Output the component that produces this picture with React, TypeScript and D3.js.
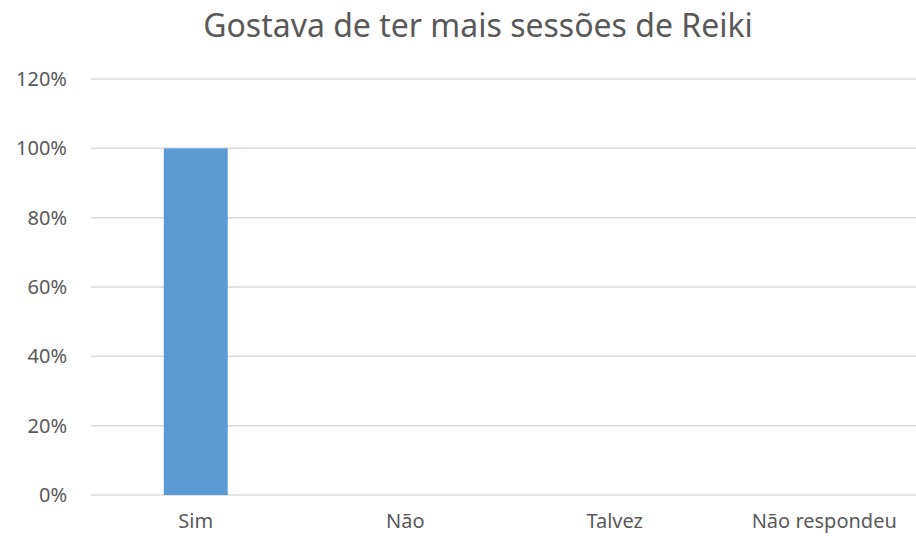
import React from "react";
import * as d3 from "d3";

const title = "Gostava de ter mais sessões de Reiki";
const categories = ["Sim", "Não", "Talvez", "Não respondeu"];
const values = [1.0, 0, 0, 0];
const yTicks = [0, 0.2, 0.4, 0.6, 0.8, 1.0, 1.2];

const W = 916;
const H = 536;
const FONT = "'Noto Sans', 'Open Sans', sans-serif";

export default function App() {
  const x = d3
    .scaleBand<string>()
    .domain(categories)
    .range([91, 929])
    .paddingInner(0.695)
    .paddingOuter(0.3475);
  const y = d3.scaleLinear().domain([0, 1.2]).range([495, 79]);
  const fmt = d3.format(".0%");

  return (
    <svg
      width={W}
      height={H}
      style={{ position: "absolute", left: 0, top: 0, background: "#fff" }}
    >
      <rect x={0} y={0} width={W} height={H} fill="#fff" />
      <text
        x={478}
        y={37}
        textAnchor="middle"
        fontFamily={FONT}
        fontSize={32}
        fill="#595959"
      >
        {title}
      </text>
      {yTicks.map((t) => (
        <g key={t}>
          <line
            x1={91}
            x2={929}
            y1={y(t)}
            y2={y(t)}
            stroke="#D9D9D9"
            strokeWidth={1.5}
          />
          <text
            x={67}
            y={y(t)}
            dy="0.35em"
            textAnchor="end"
            fontFamily={FONT}
            fontSize={20}
            fill="#595959"
          >
            {fmt(t)}
          </text>
        </g>
      ))}
      {categories.map((c, i) =>
        values[i] > 0 ? (
          <rect
            key={c}
            x={x(c)}
            y={y(values[i])}
            width={x.bandwidth()}
            height={y(0) - y(values[i])}
            fill="#5B9BD5"
          />
        ) : null
      )}
      {categories.map((c) => (
        <text
          key={c}
          x={(x(c) as number) + x.bandwidth() / 2}
          y={528}
          textAnchor="middle"
          fontFamily={FONT}
          fontSize={20}
          fill="#595959"
        >
          {c}
        </text>
      ))}
    </svg>
  );
}
